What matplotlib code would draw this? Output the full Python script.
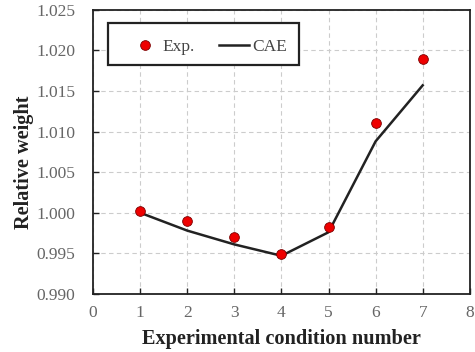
import matplotlib
matplotlib.use('Agg')
import matplotlib.pyplot as plt
from matplotlib.patches import Rectangle

plt.rcParams['font.family'] = ['Liberation Serif', 'DejaVu Serif']

conditions = [1, 2, 3, 4, 5, 6, 7]
exp_weight = [1.0002, 0.9990, 0.9970, 0.9949, 0.9983, 1.0111, 1.0190]
cae_weight = [1.0000, 0.9978, 0.9961, 0.9947, 0.9976, 1.0088, 1.0157]
x_ticks = [0, 1, 2, 3, 4, 5, 6, 7, 8]
y_ticks = [0.990, 0.995, 1.000, 1.005, 1.010, 1.015, 1.020, 1.025]

fig = plt.figure(figsize=(4.75, 3.52), dpi=100)
ax = fig.add_axes([0.196, 0.165, 0.793, 0.807])

ax.plot(conditions, cae_weight, color='#222222', lw=1.8, label='CAE', zorder=2)
ax.plot(conditions, exp_weight, 'o', color='#ee0000', mec='#7a0000', mew=0.6,
        ms=7, label='Exp.', zorder=3)

ax.set_xlim(0, 8)
ax.set_ylim(0.990, 1.025)
ax.set_xticks(x_ticks)
ax.set_yticks(y_ticks)
ax.set_yticklabels(['%.3f' % v for v in y_ticks])
ax.grid(True, ls=(0, (4, 3)), color='#cccccc', lw=0.8)
ax.set_axisbelow(True)
ax.tick_params(direction='in', length=4, width=1, colors='#222222',
               labelcolor='#666666', labelsize=12.5)
ax.tick_params(axis='y', pad=13)
ax.tick_params(axis='x', pad=8)
for s in ax.spines.values():
    s.set_linewidth(1.3)
    s.set_color('#222222')

ax.set_xlabel('Experimental condition number', fontsize=14.6, fontweight='bold',
              color='#222222', labelpad=6)
ax.set_ylabel('Relative weight', fontsize=14.6, fontweight='bold',
              color='#222222')
ax.yaxis.set_label_coords(-0.158, 0.465)

# legend frame drawn separately so the padding can match
ax.add_patch(Rectangle((0.040, 0.806), 0.507, 0.148, transform=ax.transAxes,
                       fill=True, facecolor='white', edgecolor='#222222',
                       lw=1.6, zorder=4))
h, l = ax.get_legend_handles_labels()
leg = ax.legend(h[::-1], l[::-1], ncol=2, loc='center left',
                bbox_to_anchor=(0.097, 0.870), fontsize=12.5, frameon=False,
                handlelength=1.74, handletextpad=0.15, columnspacing=1.4,
                borderpad=0, borderaxespad=0)
leg.set_zorder(5)
for t in leg.get_texts():
    t.set_color('#444444')

fig.savefig('out.png', dpi=100)
